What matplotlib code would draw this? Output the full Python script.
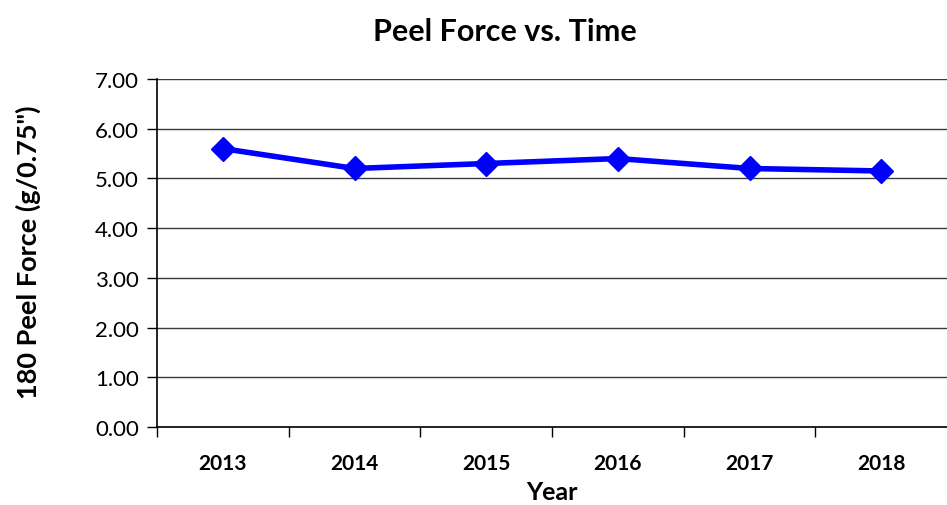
import matplotlib
matplotlib.use("Agg")
import matplotlib.pyplot as plt

years = ["2013", "2014", "2015", "2016", "2017", "2018"]
peel_force = [5.6, 5.2, 5.3, 5.4, 5.2, 5.15]
y_ticks = [0, 1, 2, 3, 4, 5, 6, 7]

plt.rcParams["font.family"] = ["Lato", "DejaVu Sans"]

fig = plt.figure(figsize=(9.47, 5.06), dpi=100)
ax = fig.add_axes([157 / 947, 1 - 428 / 506, 1 - 157 / 947, (428 - 80) / 506])

x = list(range(len(years)))
ax.plot(x, peel_force, color="#0000FF", lw=4, marker="D", ms=12,
        markerfacecolor="#0000FF", markeredgecolor="#0000FF", zorder=5,
        clip_on=False)

ax.set_xlim(-0.5, len(years) - 0.5)
ax.set_ylim(0, 7)
ax.set_yticks(y_ticks)
ax.set_yticklabels([f"{v:.2f}" for v in y_ticks], fontsize=16)
ax.set_xticks(x)
ax.set_xticklabels(years, fontsize=15, fontweight="bold")
ax.tick_params(axis="x", length=0, pad=19)
ax.set_xticks([i - 0.5 for i in x], minor=True)
ax.tick_params(axis="x", which="minor", length=7, width=1, color="black",
               direction="out")
ax.tick_params(axis="y", length=7, width=1, direction="out", pad=6)

ax.grid(axis="y", color="#3a3a3a", lw=1)
ax.set_axisbelow(True)
for side in ("top", "right"):
    ax.spines[side].set_visible(False)
ax.spines["left"].set_linewidth(1.2)
ax.spines["bottom"].set_linewidth(1.2)

ax.set_xlabel("Year", fontsize=18, fontweight="bold", labelpad=5)
ax.set_ylabel("180 Peel Force (g/0.75\")", fontsize=19.5, fontweight="bold")
ax.yaxis.set_label_coords(-0.147, 0.506)
fig.text(0.533, 0.937, "Peel Force vs. Time", ha="center", va="center",
         fontsize=22, fontweight="bold")

fig.savefig("out.png", dpi=100)
